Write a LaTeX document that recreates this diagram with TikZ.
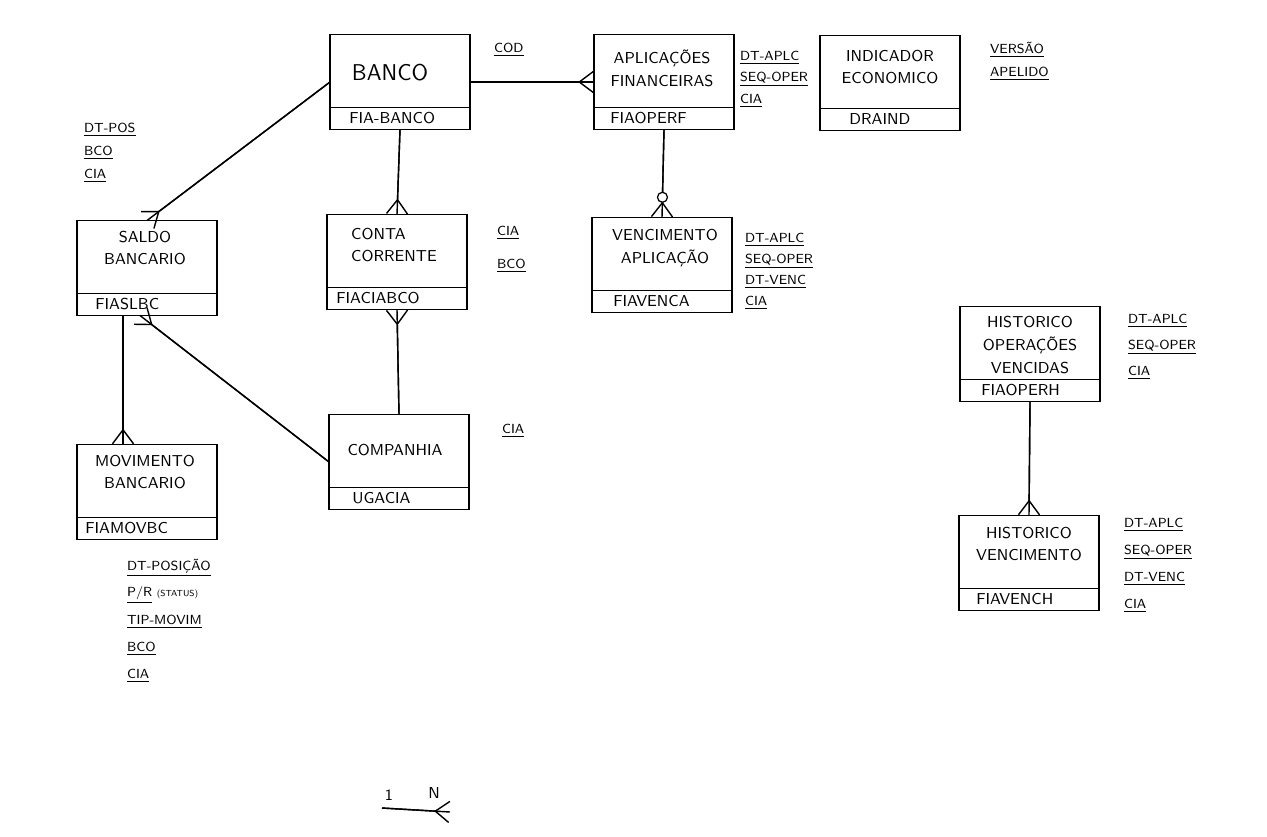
\documentclass[tikz,border=0pt]{standalone}
\usepackage{fontspec}
\usetikzlibrary{arrows.meta}

\begin{document}
\begin{tikzpicture}[x=0.02cm, y=-0.02cm,
  entidade/.style={draw, black, line width=1pt, outer sep=0pt, minimum width=2.8cm, minimum height=1.9cm},
  titulo/.style={black, font=\sffamily\fontsize{9}{13}\selectfont, align=center},
  chave/.style={black, font=\sffamily\fontsize{9}{11}\selectfont, anchor=west, inner sep=0pt},
  atrib/.style={black, font=\sffamily\fontsize{7.5}{9}\selectfont, anchor=west, inner sep=1pt},
  rel/.style={black, line width=0.8pt},
  pe/.tip={Straight Barb[reversed, length=8pt, width=12pt]},
  muitos/.style={rel, postaction={draw, -pe}},
  muitos ini/.style={rel, postaction={draw, pe-}}]
\useasboundingbox (0,0) rectangle (1267,836);
\node[entidade] (banco) at (400,82) {};
\node[entidade] (aplic) at (664,82) {};
\node[entidade] (indic) at (890,83) {};
\node[entidade] (saldo) at (147,268) {};
\node[entidade] (conta) at (397,262) {};
\node[entidade] (venc) at (662,265) {};
\node[entidade] (histop) at (1030,354) {};
\node[entidade] (compan) at (399,462) {};
\node[entidade] (movim) at (147,492) {};
\node[entidade] (histvenc) at (1029,563) {};
\foreach \n in {banco,aplic,indic,saldo,conta,venc,histop,compan,movim,histvenc}
  \draw[black, line width=0.6pt] ([yshift=0.44cm]\n.south west) -- ([yshift=0.44cm]\n.south east);
\foreach \n/\k/\d in {banco/FIA-BANCO/19, aplic/FIAOPERF/16, indic/DRAIND/29, saldo/FIASLBC/18, conta/FIACIABCO/9, venc/FIAVENCA/21, histop/FIAOPERH/21, compan/UGACIA/23, movim/FIAMOVBC/8, histvenc/FIAVENCH/17}
  \node[chave] (k-\n) at ([xshift=\d*0.02cm, yshift=0.22cm]\n.south west) {\k};
\node[titulo, font=\sffamily\fontsize{13}{15}\selectfont] (t-banco) at (390,73) {BANCO};
\node[titulo] (t-aplic) at (662,68) {APLICAÇÕES\\FINANCEIRAS};
\node[titulo] (t-indic) at (890,67) {INDICADOR\\ECONOMICO};
\node[titulo] (t-saldo) at (145,248) {SALDO\\BANCARIO};
\node[titulo, align=left] (t-conta) at (394,245) {CONTA\\CORRENTE};
\node[titulo] (t-venc) at (665,248) {VENCIMENTO\\APLICAÇÃO};
\node[titulo] (t-histop) at (1030,345) {HISTORICO\\OPERAÇÕES\\VENCIDAS};
\node[titulo] (t-compan) at (395,450) {COMPANHIA};
\node[titulo] (t-movim) at (145,472) {MOVIMENTO\\BANCARIO};
\node[titulo] (t-histvenc) at (1029,544) {HISTORICO\\VENCIMENTO};
\foreach \t [count=\i] in {DT-POS,BCO,CIA}
  \node[atrib] (a-saldo-\i) at (82,107+23*\i) {\underline{\t}};
\node[atrib] (a-banco) at (492,50) {\underline{COD}};
\foreach \t [count=\i] in {DT-APLC,SEQ-OPER,CIA}
  \node[atrib] (a-aplic-\i) at (738,36.5+21.5*\i) {\underline{\t}};
\foreach \t [count=\i] in {VERSÃO,APELIDO}
  \node[atrib] (a-indic-\i) at (988,26+24*\i) {\underline{\t}};
\foreach \t [count=\i] in {CIA,BCO}
  \node[atrib] (a-conta-\i) at (495,200+33*\i) {\underline{\t}};
\foreach \t [count=\i] in {DT-APLC,SEQ-OPER,DT-VENC,CIA}
  \node[atrib] (a-venc-\i) at (743,219+21*\i) {\underline{\t}};
\node[atrib] (a-compan) at (500,431) {\underline{CIA}};
\foreach \t [count=\i] in {DT-POSIÇÃO,P/R\rlap{ \tiny(STATUS)},TIP-MOVIM,BCO,CIA}
  \node[atrib] (a-movim-\i) at (125,541+27*\i) {\underline{\t}};
\foreach \t [count=\i] in {DT-APLC,SEQ-OPER,CIA}
  \node[atrib] (a-histop-\i) at (1126,295+26*\i) {\underline{\t}};
\foreach \t [count=\i] in {DT-APLC,SEQ-OPER,DT-VENC,CIA}
  \node[atrib] (a-histvenc-\i) at (1122,498+27*\i) {\underline{\t}};
\draw[muitos] (banco.west) -- (saldo.north);
\draw[muitos] (banco.south) -- (conta.north);
\draw[muitos] (banco.east) -- (aplic.west);
\draw[muitos] (aplic.south) -- node[pos=0.77, circle, draw, fill=white, line width=0.7pt, inner sep=0pt, minimum size=0.2cm] (opc) {} (venc.north);
\draw[muitos] ([xshift=-0.48cm]saldo.south) -- ([xshift=-0.48cm]movim.north);
\draw[muitos ini] ([xshift=-0.14cm]saldo.south) -- (compan.west);
\draw[muitos ini] (conta.south) -- (compan.north);
\draw[muitos] (histop.south) -- (histvenc.north);
\node[black, font=\sffamily\small] (leg-1) at (389,795) {1};
\node[black, font=\sffamily\small] (leg-n) at (434,793) {N};
\coordinate (leg-a) at (382,808);
\coordinate (leg-b) at (450,812);
\draw[muitos] (leg-a) -- (leg-b);
\end{tikzpicture}
\end{document}
